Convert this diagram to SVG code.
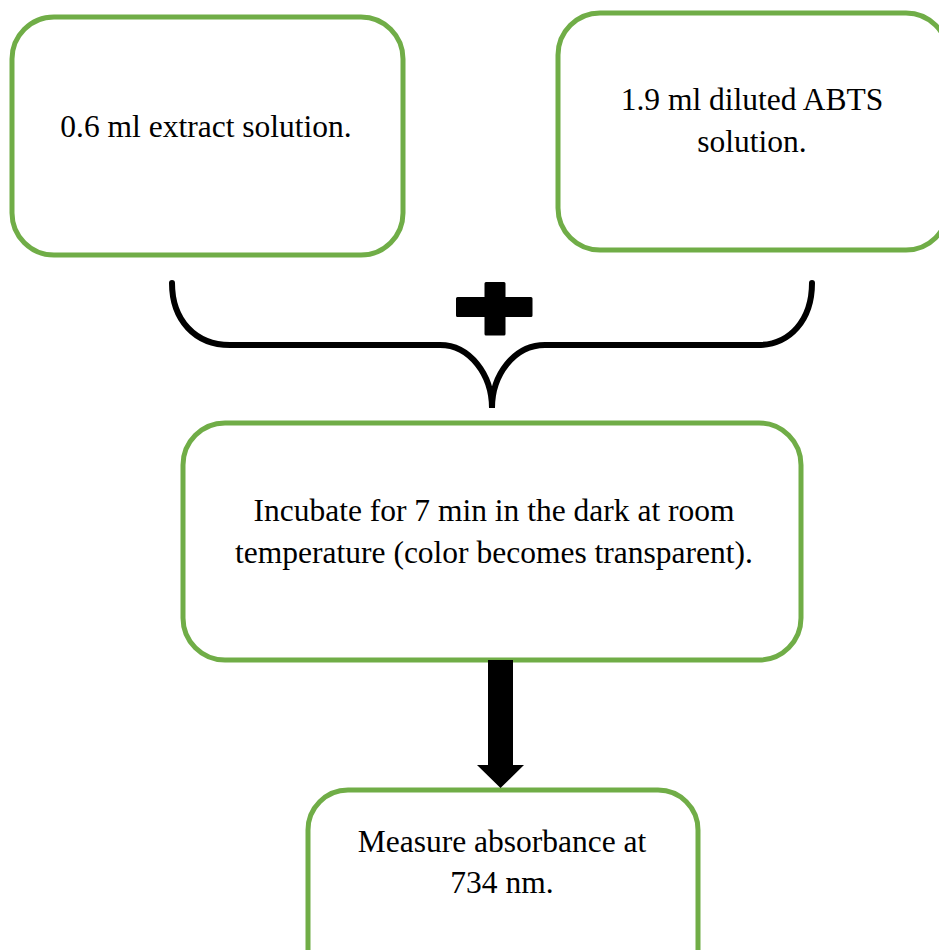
<svg xmlns="http://www.w3.org/2000/svg" width="939" height="950" viewBox="0 0 939 950">
<style>
.box{fill:#fff;stroke:#70AD47;stroke-width:5}
.t{font-family:"Liberation Serif","Times New Roman",serif;font-size:31.5px;fill:#000;text-anchor:middle}
.brace{fill:none;stroke:#000;stroke-width:6;stroke-linecap:round}
</style>
<rect width="939" height="950" fill="#fff"/>
<g id="node-extract">
<rect class="box" x="12" y="17" width="391" height="238" rx="42"/>
<text class="t" x="206" y="137">0.6 ml extract solution.</text>
</g>
<g id="node-abts">
<rect class="box" x="558" y="13" width="390" height="237" rx="42"/>
<text class="t" x="752" y="110">1.9 ml diluted ABTS</text>
<text class="t" x="752" y="152">solution.</text>
</g>
<g id="node-incubate">
<rect class="box" x="183" y="423" width="618" height="237" rx="42"/>
<text class="t" x="494" y="521">Incubate for 7 min in the dark at room</text>
<text class="t" x="494" y="563">temperature (color becomes transparent).</text>
</g>
<g id="node-measure">
<rect class="box" x="308" y="790" width="390" height="200" rx="40"/>
<text class="t" x="502" y="852">Measure absorbance at</text>
<text class="t" x="502" y="893">734 nm.</text>
</g>
<g id="connectors">
<path class="brace" d="M172,283 C172,320 195,345 230,345 L440,345 C470,345 492,375 492,408 C492,375 514,345 545,345 L758,345 C790,345 812,320 812,283"/>
<path d="M486,282 h18 a1.5,1.5 0 0 1 1.5,1.5 v13.5 h25.5 a1.5,1.5 0 0 1 1.5,1.5 v17 a1.5,1.5 0 0 1 -1.5,1.5 h-25.5 v17 a1.5,1.5 0 0 1 -1.5,1.5 h-18 a1.5,1.5 0 0 1 -1.5,-1.5 v-17 h-27 a1.5,1.5 0 0 1 -1.5,-1.5 v-17 a1.5,1.5 0 0 1 1.5,-1.5 h27 v-13.5 a1.5,1.5 0 0 1 1.5,-1.5 z" fill="#000"/>
<path d="M488,660 h25 v105 h11 l-23.5,23 l-23.5,-23 h11 z" fill="#000"/>
</g>
</svg>
